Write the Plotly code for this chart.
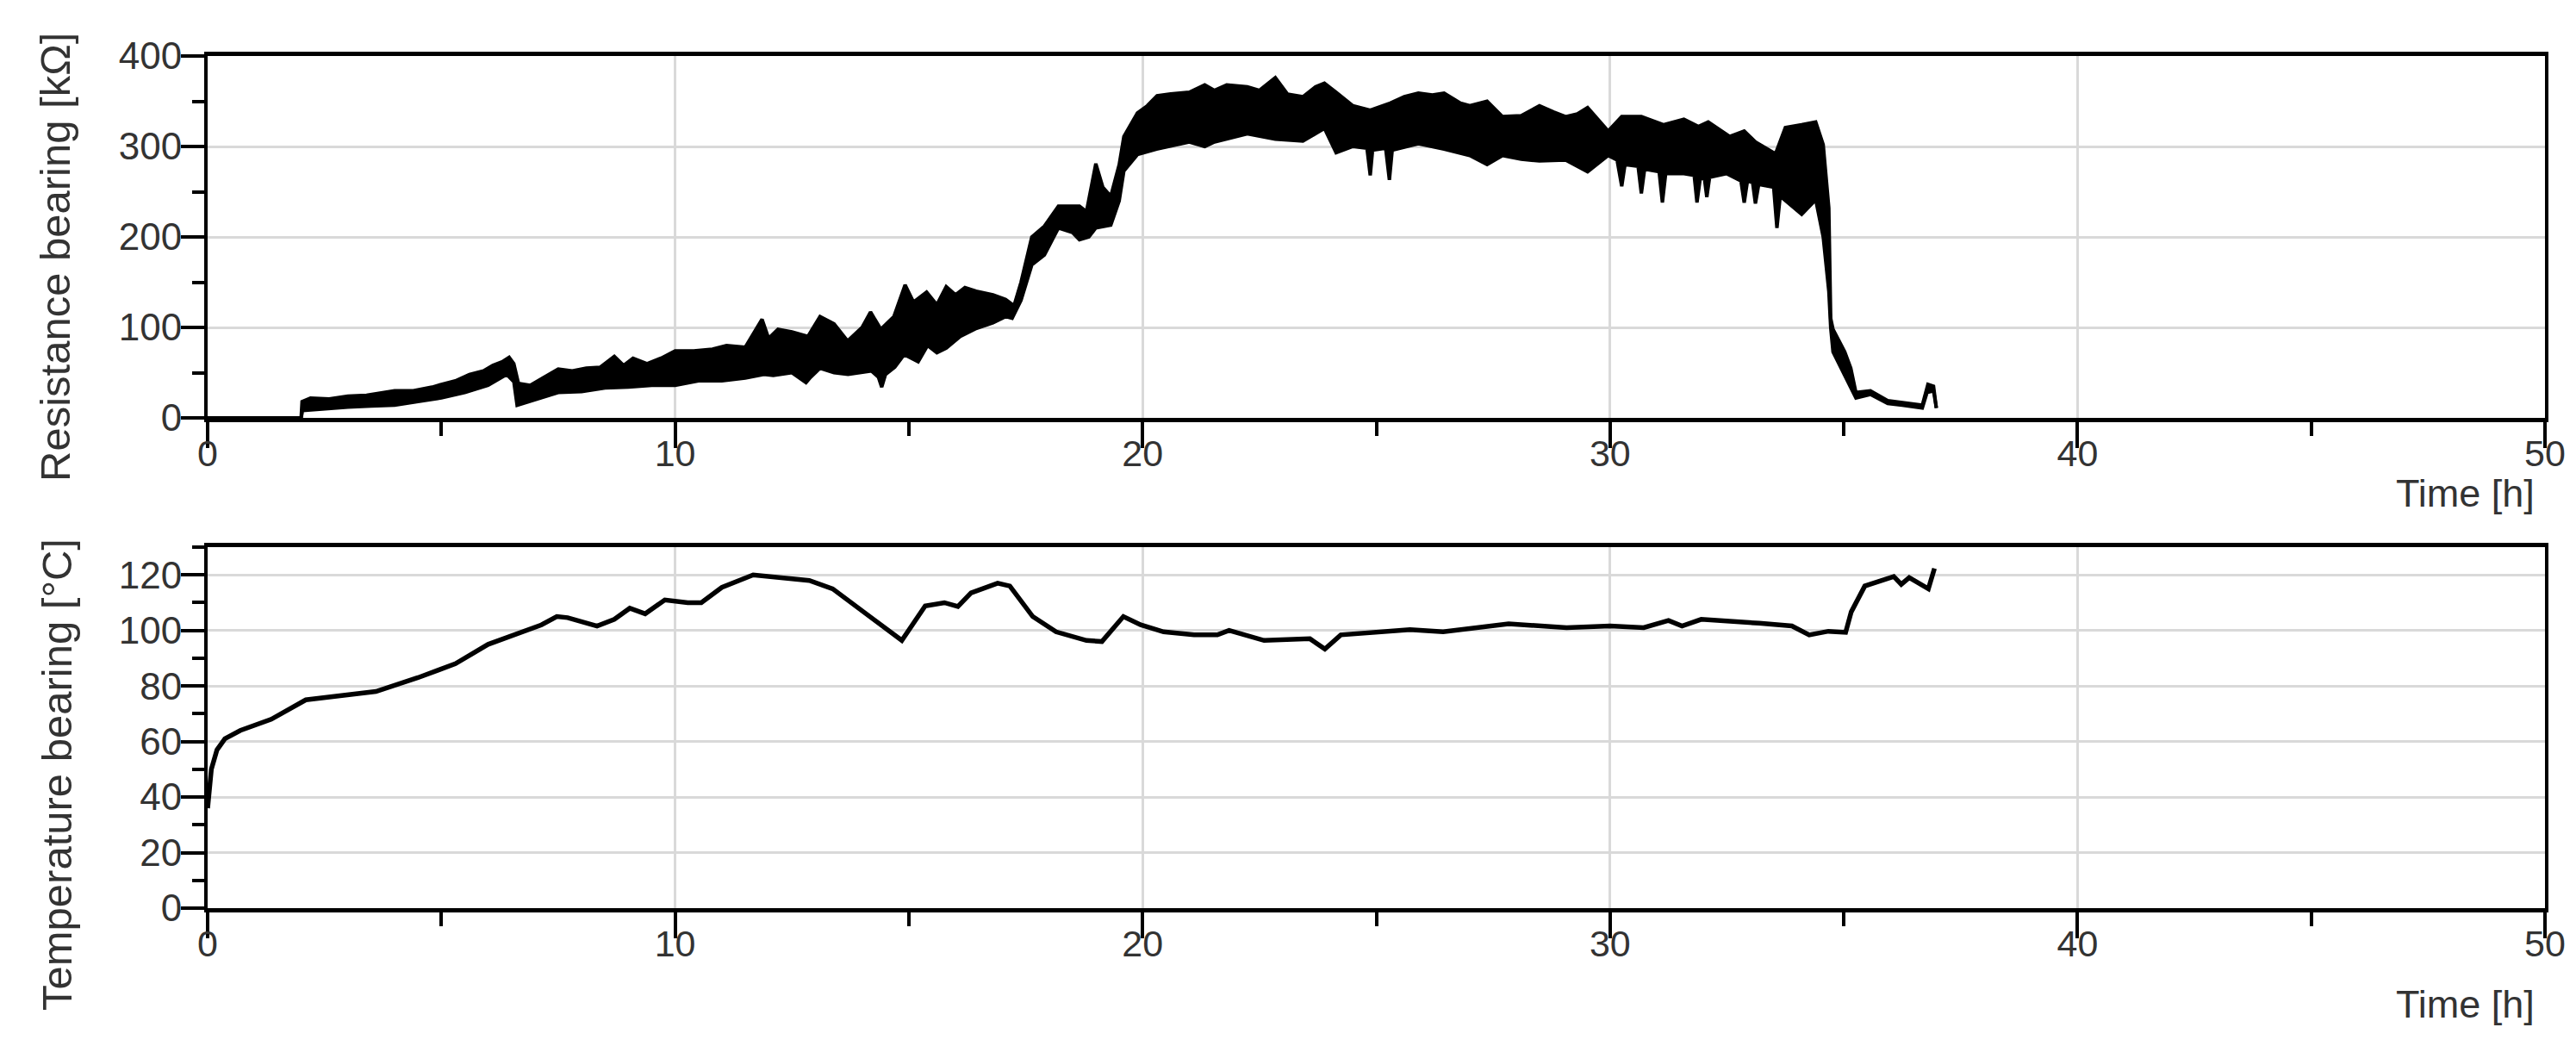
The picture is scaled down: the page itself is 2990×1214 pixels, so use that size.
import plotly.graph_objects as go

# ---------------- data ----------------
# Resistance: the noisy signal is drawn as its upper and lower envelope
res_upper_time = [0, 2.0, 2.02, 2.2, 2.6, 3.0, 3.4, 3.8, 4.0, 4.4, 4.8, 5.0, 5.3, 5.6, 5.9, 6.1, 6.3, 6.45,
                  6.55, 6.65, 6.9, 7.2, 7.5, 7.8, 8.1, 8.4, 8.7, 8.9, 9.1, 9.4, 9.7, 10.0, 10.4, 10.8, 11.1,
                  11.5, 11.86, 12.0, 12.2, 12.5, 12.84, 13.1, 13.4, 13.69, 14.0, 14.18, 14.4, 14.68, 14.92,
                  15.1, 15.38, 15.6, 15.8, 16.0, 16.2, 16.44, 16.8, 17.07, 17.25, 17.4, 17.63, 17.9, 18.2,
                  18.65, 18.8, 19.0, 19.15, 19.32, 19.5, 19.6, 19.89, 20.1, 20.31, 20.6, 21.0, 21.33, 21.54,
                  21.8, 22.24, 22.5, 22.84, 23.1, 23.43, 23.7, 23.89, 24.14, 24.5, 24.87, 25.3, 25.6, 25.9,
                  26.2, 26.45, 26.8, 27.0, 27.37, 27.7, 28.1, 28.49, 28.8, 29.05, 29.3, 29.52, 29.96, 30.25,
                  30.67, 31.15, 31.58, 31.89, 32.1, 32.56, 32.87, 33.11, 33.54, 33.75, 34.1, 34.4, 34.56,
                  34.68, 34.72, 34.77, 35.02, 35.15, 35.26, 35.57, 35.94, 36.25, 36.68, 36.8, 36.92, 36.98]
res_upper = [0, 0, 18, 22, 21, 24, 25, 28, 30, 30, 34, 37, 41, 48, 52, 58, 62, 67,
             60, 38, 36, 45, 54, 52, 55, 56, 68, 58, 66, 60, 66, 74, 74, 76, 80,
             78, 109, 88, 98, 95, 90, 112, 104, 85, 100, 117, 98, 112, 147,
             128, 139, 125, 145, 136, 144, 140, 136, 131, 124, 150, 200, 212, 234,
             234, 228, 281, 255, 245, 280, 311, 337, 345, 356, 358, 360, 368, 362,
             368, 366, 362, 376, 358, 355, 366, 370, 360, 345, 340, 348, 355, 359,
             357, 359, 348, 345, 350, 333, 334, 345, 338, 333, 336, 343, 317, 333,
             333, 324, 330, 322, 327, 311, 317, 305, 292, 321, 324, 327, 302,
             232, 110, 98, 73, 55, 28, 30, 19, 17, 14, 37, 35, 11]

res_lower_time = [0, 2.0, 2.03, 2.5, 3.0, 3.5, 4.0, 4.5, 5.0, 5.5, 6.0, 6.4, 6.55, 6.62, 6.8, 7.2, 7.5, 8.0,
                  8.5, 9.0, 9.5, 10.0, 10.5, 11.0, 11.5, 11.9, 12.1, 12.5, 12.8, 12.9, 13.1, 13.4, 13.7,
                  14.2, 14.35, 14.42, 14.5, 14.7, 14.9, 15.2, 15.4, 15.6, 15.8, 16.1, 16.45, 16.8, 17.07,
                  17.21, 17.4, 17.63, 17.9, 18.2, 18.5, 18.65, 18.85, 19.0, 19.32, 19.5, 19.6, 19.89, 20.3,
                  21.0, 21.33, 21.54, 22.24, 22.84, 23.43, 23.89, 24.14, 24.5, 24.8, 24.87, 24.92, 25.2,
                  25.28, 25.34, 25.9, 26.45, 27.0, 27.37, 27.7, 28.1, 28.49, 29.05, 29.52, 29.96, 30.15,
                  30.25, 30.32, 30.6, 30.67, 30.74, 31.05, 31.12, 31.19, 31.58, 31.8, 31.86, 31.93, 32.02,
                  32.07, 32.13, 32.49, 32.8, 32.87, 32.94, 33.05, 33.11, 33.18, 33.5, 33.57, 33.64, 34.1,
                  34.4, 34.56, 34.68, 34.72, 34.77, 35.02, 35.26, 35.57, 35.94, 36.25, 36.68, 36.78, 36.92,
                  36.98]
res_lower = [0, 0, 8, 10, 12, 13, 14, 18, 22, 28, 36, 48, 40, 14, 17, 23, 28, 29,
             33, 34, 36, 36, 41, 41, 44, 48, 47, 50, 39, 45, 55, 50, 48,
             52, 45, 34, 48, 56, 70, 62, 80, 72, 77, 90, 99, 105, 112,
             110, 130, 169, 180, 210, 205, 197, 200, 210, 213, 240, 273, 291, 297,
             305, 300, 305, 314, 308, 306, 320, 293, 300, 298, 268, 296, 298,
             263, 296, 303, 297, 290, 280, 290, 286, 284, 285, 272, 290, 285,
             256, 280, 278, 248, 275, 272, 238, 270, 270, 268, 238, 265, 264,
             244, 266, 270, 262, 238, 262, 260, 237, 258, 255, 210, 245, 225,
             241, 200, 140, 100, 73, 48, 22, 26, 16, 14, 11, 28, 30,
             11]

temp_time = [0, 0.08, 0.2, 0.37, 0.7, 1.36, 2.1, 3.1, 3.6, 4.5, 5.3, 6.0, 6.56, 6.8, 7.14, 7.47, 7.7,
             8.33, 8.7, 9.03, 9.36, 9.78, 10.27, 10.56, 11.0, 11.67, 12.3, 12.87, 13.37, 13.86, 14.36,
             14.85, 15.1, 15.35, 15.76, 16.05, 16.33, 16.9, 17.16, 17.65, 18.15, 18.8, 19.13, 19.59,
             19.96, 20.45, 21.1, 21.6, 21.85, 22.6, 23.58, 23.9, 24.24, 24.82, 25.72, 26.43, 27.83,
             29.07, 30.0, 30.72, 31.25, 31.54, 31.95, 33.19, 33.89, 34.26, 34.67, 35.04, 35.16, 35.45,
             36.07, 36.23, 36.4, 36.81, 36.94]
temp_values = [36, 50, 57, 61, 64, 68, 75, 77, 78, 83, 88, 95, 98.5, 100, 102, 105, 104.6,
               101.6, 104, 108, 106, 111, 110, 110, 115.5, 120, 119, 118, 115, 109, 102.6,
               96.4, 102.6, 108.8, 110, 108.6, 113.5, 117, 116, 105, 99.5, 96.4, 96, 105,
               102, 99.5, 98.4, 98.4, 100, 96.4, 97, 93.3, 98.4, 99.3, 100.3, 99.5, 102.4,
               101, 101.6, 101, 103.6, 101.6, 104, 102.6, 101.6, 98.4, 99.7, 99.3, 106.7, 116,
               119.4, 116.6, 119, 115, 122.3]

x_ticks = [0, 10, 20, 30, 40, 50]
res_ticks = [0, 100, 200, 300, 400]
temp_ticks = [0, 20, 40, 60, 80, 100, 120]

# ---------------- figure ----------------
W, H = 2990, 1214
ML, MR, MT, MB = 233, 44, 57, 168
TXT = "#333333"
GRID = "#d9d9d9"
FONT = "Liberation Sans, Arial, sans-serif"

fig = go.Figure()
fig.add_trace(go.Scatter(x=res_lower_time, y=res_lower, mode="lines",
                         line=dict(color="black", width=4), xaxis="x", yaxis="y",
                         showlegend=False, hoverinfo="skip"))
fig.add_trace(go.Scatter(x=res_upper_time, y=res_upper, mode="lines", fill="tonexty",
                         fillcolor="black", line=dict(color="black", width=4),
                         xaxis="x", yaxis="y", showlegend=False, hoverinfo="skip"))
fig.add_trace(go.Scatter(x=temp_time, y=temp_values, mode="lines",
                         line=dict(color="black", width=5.5), xaxis="x2", yaxis="y2",
                         showlegend=False, hoverinfo="skip"))

plot_h = H - MT - MB
top_dom = [(H - MB - 477) / plot_h, 1.0]
bot_dom = [0.0, (H - MB - 627) / plot_h]


def xax(anchor, inside, labels):
    d = dict(range=[0, 50], tickmode="array", tickvals=x_ticks, ticktext=[str(v) for v in x_ticks],
             ticks="inside" if inside else "outside", ticklen=30, tickwidth=4, tickcolor="black",
             minor=dict(tickmode="array", tickvals=[5, 15, 25, 35, 45],
                        ticks="inside" if inside else "outside",
                        ticklen=16, tickwidth=4, tickcolor="black", showgrid=False),
             showticklabels=labels, tickfont=dict(size=43, color=TXT, family=FONT),
             ticklabelstandoff=-31,
             zeroline=False, anchor=anchor, fixedrange=True)
    if not inside:
        d.update(showgrid=True, gridcolor=GRID, gridwidth=3,
                 showline=True, linewidth=5, linecolor="black", mirror=True)
    else:
        d.update(showgrid=False, showline=False)
    return d


def yax(anchor, rng, vals, minors, inside, labels, domain=None):
    d = dict(range=rng, tickmode="array", tickvals=vals, ticktext=[str(v) for v in vals],
             ticks="inside" if inside else "outside", ticklen=27, tickwidth=4, tickcolor="black",
             minor=dict(tickmode="array", tickvals=minors,
                        ticks="inside" if inside else "outside",
                        ticklen=14, tickwidth=4, tickcolor="black", showgrid=False),
             showticklabels=labels, tickfont=dict(size=44, color=TXT, family=FONT),
             ticklabelstandoff=-10,
             zeroline=False, anchor=anchor, fixedrange=True)
    if domain is not None:
        d["domain"] = domain
    if not inside:
        d.update(showgrid=True, gridcolor=GRID, gridwidth=3,
                 showline=True, linewidth=4, linecolor="black", mirror=True)
    else:
        d.update(showgrid=False, showline=False)
    return d


lay = dict(
    width=W, height=H,
    margin=dict(l=ML, r=MR, t=MT, b=MB),
    paper_bgcolor="white", plot_bgcolor="white",
    font=dict(family=FONT, color=TXT),
    showlegend=False,
)
lay["xaxis"] = xax("y", False, True)
lay["xaxis2"] = xax("y2", False, True)
lay["xaxis3"] = dict(xax("y", True, False), overlaying="x")
lay["xaxis4"] = dict(xax("y2", True, False), overlaying="x2")
lay["yaxis"] = yax("x", [0, 400], res_ticks, [50, 150, 250, 350], False, True, top_dom)
lay["yaxis2"] = yax("x2", [0, 130], temp_ticks, [10, 30, 50, 70, 90, 110, 130], False, True, bot_dom)
lay["yaxis3"] = dict(yax("x", [0, 400], res_ticks, [50, 150, 250, 350], True, False), overlaying="y")
lay["yaxis4"] = dict(yax("x2", [0, 130], temp_ticks, [10, 30, 50, 70, 90, 110, 130], True, False),
                     overlaying="y2")
fig.update_layout(**lay)


def px(xf):
    return (xf - ML) / (W - ML - MR)


def py(yf):
    return (H - MB - yf) / plot_h


fig.add_annotation(text="Resistance bearing [kΩ]", textangle=-90, xref="paper", yref="paper",
                   x=px(56), y=py(291), xanchor="center", yanchor="middle", showarrow=False,
                   font=dict(size=49, color=TXT, family=FONT))
fig.add_annotation(text="Temperature bearing [°C]", textangle=-90, xref="paper", yref="paper",
                   x=px(58), y=py(891), xanchor="center", yanchor="middle", showarrow=False,
                   font=dict(size=49, color=TXT, family=FONT))
fig.add_annotation(text="Time [h]", xref="paper", yref="paper", x=px(2936), y=py(564),
                   xanchor="right", yanchor="middle", showarrow=False,
                   font=dict(size=45, color=TXT, family=FONT))
fig.add_annotation(text="Time [h]", xref="paper", yref="paper", x=px(2936), y=py(1157),
                   xanchor="right", yanchor="middle", showarrow=False,
                   font=dict(size=45, color=TXT, family=FONT))

fig.write_html("out.html")
